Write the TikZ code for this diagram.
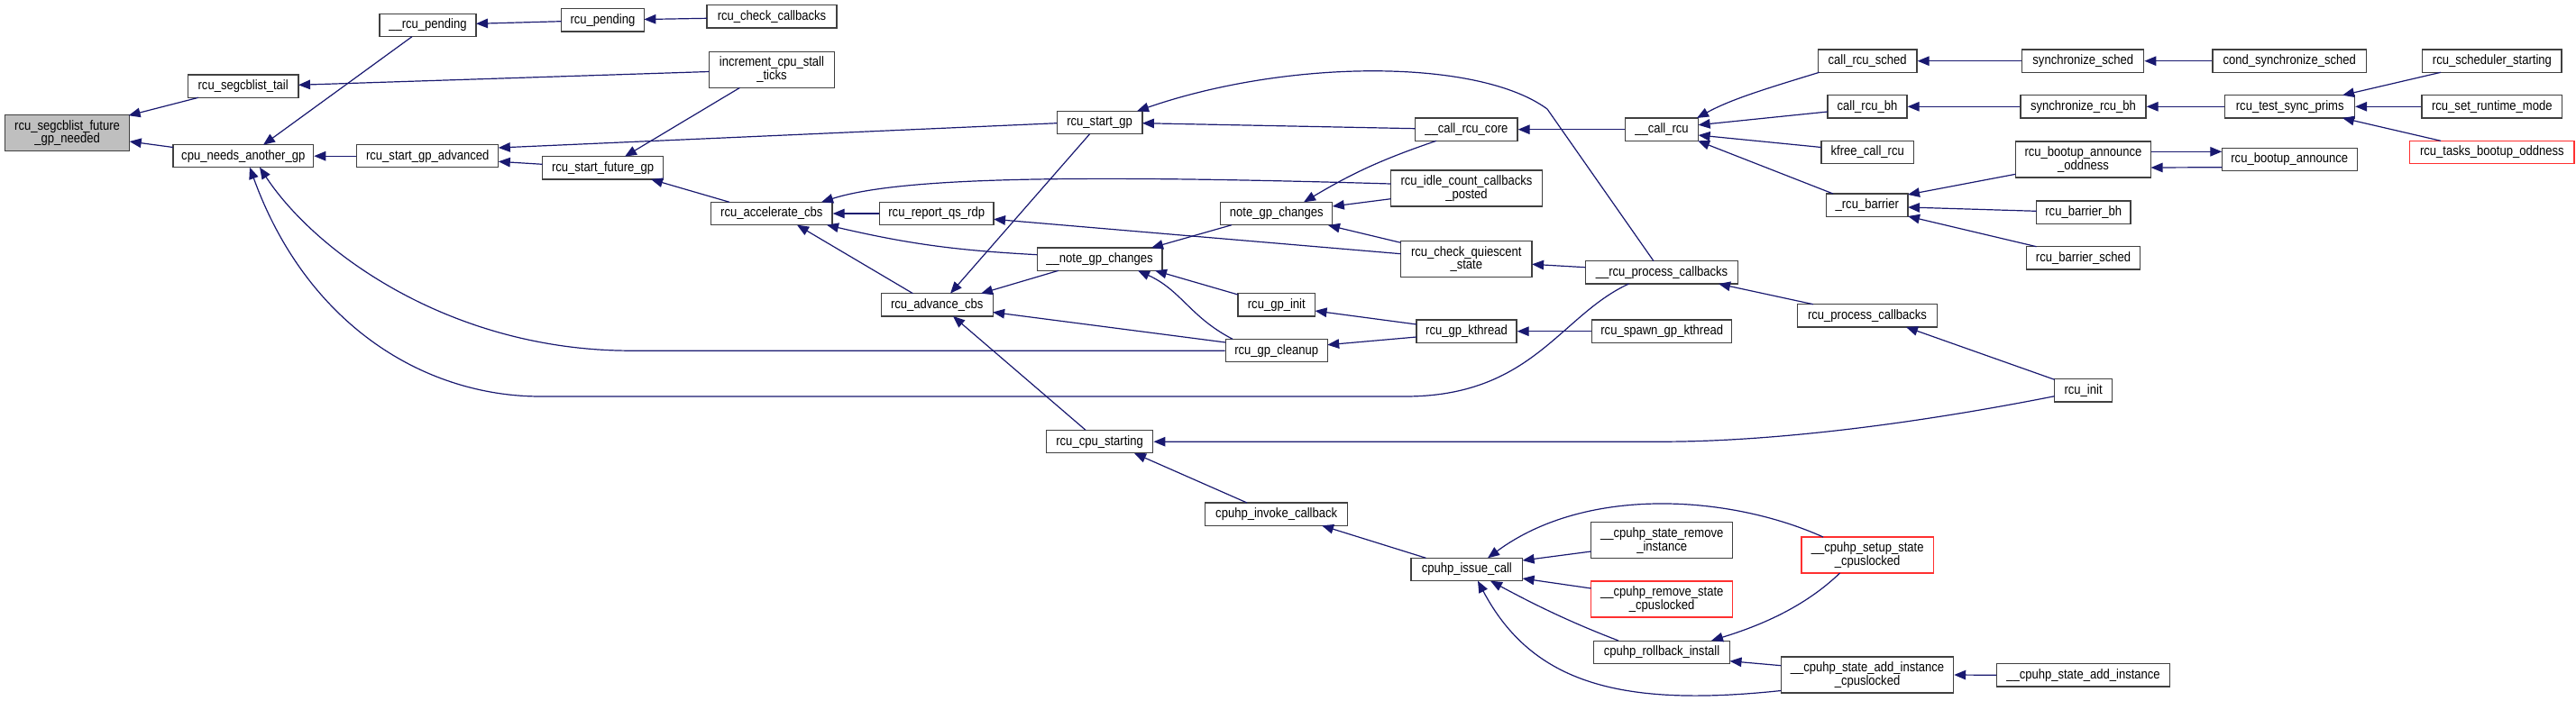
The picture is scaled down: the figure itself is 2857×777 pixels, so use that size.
\documentclass[tikz,border=0pt]{standalone}
\usepackage{fontspec}
\setmainfont{Liberation Sans}
\newfontfamily\narrowfont{Liberation Sans}[FakeStretch=0.87]
\usetikzlibrary{arrows.meta,calc}
\definecolor{edgeblue}{HTML}{191970}
\definecolor{boxgray}{HTML}{404040}
\definecolor{maingray}{HTML}{BFBFBF}
\definecolor{boxred}{HTML}{FF3030}
\newcommand\nodefont{\narrowfont\fontsize{15}{14.5}\selectfont}
\begin{document}
\begin{tikzpicture}[x=1pt,y=-1pt,
  box/.style={draw=boxgray, line width=1.2pt, fill=white, inner sep=0pt, align=center, font=\nodefont, minimum height=25.3pt},
  tall/.style={minimum height=40pt},
  redbox/.style={draw=boxred},
  edge/.style={draw=edgeblue, line width=1.2pt, -{Triangle[length=13pt,width=10.5pt]}}]
\useasboundingbox[fill=white] (0,0) rectangle (2857,777);
% nodes
\node[box,tall,fill=maingray,minimum width=138.2pt] (main) at (74.6,147.7) {rcu\_segcblist\_future\\\_gp\_needed};
\node[box,minimum width=122.6pt] (tail) at (269.7,95.7) {rcu\_segcblist\_tail};
\node[box,minimum width=155.7pt] (cpuneeds) at (269.8,173.2) {cpu\_needs\_another\_gp};
\node[box,minimum width=107pt] (rpend2) at (474.5,27.8) {\_\_rcu\_pending};
\node[box,minimum width=157pt] (adv) at (474.3,173.2) {rcu\_start\_gp\_advanced};
\node[box,minimum width=91.8pt] (rpend) at (668.5,22.3) {rcu\_pending};
\node[box,minimum width=134.2pt] (future) at (668.6,186.3) {rcu\_start\_future\_gp};
\node[box,minimum width=144.1pt] (checkcb) at (856,18.3) {rcu\_check\_callbacks};
\node[box,tall,minimum width=138.7pt] (incr) at (856,77.3) {increment\_cpu\_stall\\\_ticks};
\node[box,minimum width=94.6pt] (startgp) at (1219.6,136) {rcu\_start\_gp};
\node[box,minimum width=134.5pt] (accel) at (855.8,237) {rcu\_accelerate\_cbs};
\node[box,minimum width=126.7pt] (report) at (1038.7,237) {rcu\_report\_qs\_rdp};
\node[box,minimum width=124.1pt] (note) at (1415.8,237) {note\_gp\_changes};
\node[box,minimum width=138.6pt] (note2) at (1219.6,287.7) {\_\_note\_gp\_changes};
\node[box,minimum width=123.9pt] (advcbs) at (1039.2,338.3) {rcu\_advance\_cbs};
\node[box,minimum width=85.5pt] (gpinit) at (1415.8,338.3) {rcu\_gp\_init};
\node[box,minimum width=113pt] (cleanup) at (1415.7,389.2) {rcu\_gp\_cleanup};
\node[box,minimum width=118.4pt] (cpustart) at (1219.6,490.2) {rcu\_cpu\_starting};
\node[box,minimum width=158pt] (invoke) at (1415.7,570.7) {cpuhp\_invoke\_callback};
\node[box,minimum width=113.4pt] (callcore) at (1626.3,143.7) {\_\_call\_rcu\_core};
\node[box,tall,minimum width=168pt] (idle) at (1626.5,209) {rcu\_idle\_count\_callbacks\\\_posted};
\node[box,tall,minimum width=145.5pt] (cqs) at (1626.3,287.7) {rcu\_check\_quiescent\\\_state};
\node[box,minimum width=81.2pt] (callrcu) at (1843,143.7) {\_\_call\_rcu};
\node[box,minimum width=109.7pt] (crsched) at (2071.2,67.7) {call\_rcu\_sched};
\node[box,minimum width=88.1pt] (crbh) at (2071,118.3) {call\_rcu\_bh};
\node[box,minimum width=102.4pt] (kfree) at (2071.2,169) {kfree\_call\_rcu};
\node[box,minimum width=90.5pt] (barrier) at (2070.8,227.7) {\_rcu\_barrier};
\node[box,minimum width=169.4pt] (rpc2) at (1843,302.3) {\_\_rcu\_process\_callbacks};
\node[box,minimum width=155.1pt] (rpc) at (2071,350.3) {rcu\_process\_callbacks};
\node[box,minimum width=111pt] (kthread) at (1626.5,367.7) {rcu\_gp\_kthread};
\node[box,minimum width=155.2pt] (spawn) at (1843.2,367.7) {rcu\_spawn\_gp\_kthread};
\node[box,minimum width=123.5pt] (issue) at (1626.8,632) {cpuhp\_issue\_call};
\node[box,tall,minimum width=157pt] (reminst) at (1843.2,599.8) {\_\_cpuhp\_state\_remove\\\_instance};
\node[box,tall,redbox,minimum width=157pt] (remstate) at (1843.2,665) {\_\_cpuhp\_remove\_state\\\_cpuslocked};
\node[box,minimum width=151pt] (rollback) at (1843,723.8) {cpuhp\_rollback\_install};
\node[box,tall,redbox,minimum width=146.4pt] (setup) at (2071.2,616) {\_\_cpuhp\_setup\_state\\\_cpuslocked};
\node[box,tall,minimum width=191.2pt] (addcl) at (2071,749) {\_\_cpuhp\_state\_add\_instance\\\_cpuslocked};
\node[box,minimum width=135pt] (syncsched) at (2310.3,67.7) {synchronize\_sched};
\node[box,minimum width=170.4pt] (condsync) at (2539.2,67.7) {cond\_synchronize\_sched};
\node[box,minimum width=154.2pt] (schedstart) at (2763.9,67.7) {rcu\_scheduler\_starting};
\node[box,minimum width=139.1pt] (syncbh) at (2310.5,118.3) {synchronize\_rcu\_bh};
\node[box,minimum width=143.7pt] (testsync) at (2539.7,118.3) {rcu\_test\_sync\_prims};
\node[box,minimum width=155.6pt] (runtime) at (2763.8,118.3) {rcu\_set\_runtime\_mode};
\node[box,redbox,minimum width=182.3pt] (tasks) at (2763.8,169) {rcu\_tasks\_bootup\_oddness};
\node[box,tall,minimum width=150.1pt] (oddness) at (2310.5,177) {rcu\_bootup\_announce\\\_oddness};
\node[box,minimum width=150.1pt] (announce) at (2539.3,177) {rcu\_bootup\_announce};
\node[box,minimum width=104.5pt] (barbh) at (2310.8,235.7) {rcu\_barrier\_bh};
\node[box,minimum width=126.3pt] (barsched) at (2310.5,286.3) {rcu\_barrier\_sched};
\node[box,minimum width=63.8pt] (rcuinit) at (2310.6,433.3) {rcu\_init};
\node[box,minimum width=191.5pt] (addinst) at (2310.5,749.3) {\_\_cpuhp\_state\_add\_instance};
% edges
\draw[edge] ($(tail)+(-49.7,12.6)$) -- ($(main)+(68,-19.5)$);
\draw[edge] ($(cpuneeds)+(-77.9,-9.7)$) -- ($(main)+(69.1,9.3)$);
\draw[edge] ($(rpend2)+(-17.5,12.85)$) -- ($(cpuneeds)+(22.2,-12.5)$);
\draw[edge] ($(rpend)+(-45.9,1.4)$) -- ($(rpend2)+(53.5,-1.5)$);
\draw[edge] ($(checkcb)+(-72,2)$) -- ($(rpend)+(45.9,-0.8)$);
\draw[edge] ($(incr)+(-69.4,2.2)$) -- ($(tail)+(61.3,-1.4)$);
\draw[edge] (adv.west) -- (cpuneeds.east);
\draw[edge] ($(startgp)+(-47.3,0.7)$) -- ($(adv)+(78.5,-9.2)$);
\draw[edge] ($(future)+(-67.1,-4)$) -- ($(adv)+(78.5,6.1)$);
\draw[edge] ($(incr)+(-35.4,20)$) -- ($(future)+(24.4,-12.6)$);
\draw[edge] ($(accel)+(-46.8,-12.7)$) -- ($(future)+(53.4,12.7)$);
\draw[edge] (report.west) -- (accel.east);
\draw[edge] ($(note2)+(-69.3,-5)$) to[bend left=5] ($(accel)+(61.2,12.7)$);
\draw[edge] ($(advcbs)+(-26.7,-12.6)$) -- ($(accel)+(28.2,12.7)$);
\draw[edge] ($(idle)+(-84,-5)$) .. controls (1200,194) and (1000,196) .. ($(accel)+(55.2,-12.7)$);
\draw[edge] ($(startgp)+(-11,12.7)$) -- ($(advcbs)+(14.8,-12.6)$);
\draw[edge] ($(note2)+(-45.6,12.6)$) -- ($(advcbs)+(48.8,-12.6)$);
\draw[edge] ($(cleanup)+(-56.5,-9.2)$) -- ($(advcbs)+(61.9,8.2)$);
\draw[edge] ($(note)+(-49.8,12.7)$) -- ($(note2)+(57.4,-12.7)$);
\draw[edge] ($(gpinit)+(-42.8,-11.3)$) -- ($(note2)+(61.4,12.6)$);
\draw[edge] ($(cleanup)+(-48.7,-12.9)$) .. controls (1320,352) and (1310,322) .. ($(note2)+(42.4,12.6)$);
\draw[edge] ($(callcore)+(-33.3,12.6)$) to[bend right=6] ($(note)+(30.2,-12.7)$);
\draw[edge] ($(idle)+(-84,11.7)$) -- ($(note)+(62,-8)$);
\draw[edge] ($(cqs)+(-72.75,-18.4)$) -- ($(note)+(57.2,13)$);
\draw[edge] ($(cqs)+(-72.75,-6)$) -- ($(report)+(63.3,6.3)$);
\draw[edge] ($(callcore)+(-56.7,-1)$) -- ($(startgp)+(47.3,0.7)$);
\draw[edge] ($(rpc2)+(-9,-12.6)$) -- (1716,121) .. controls (1640,65) and (1430,65) .. ($(startgp)+(41.4,-12.7)$);
\draw[edge] (callrcu.west) -- (callcore.east);
\draw[edge] ($(crsched)+(-53.5,12.6)$) .. controls (1960,98) and (1920,110) .. ($(callrcu)+(39,-12.7)$);
\draw[edge] ($(crbh)+(-44.1,5.7)$) -- ($(callrcu)+(40.6,-5)$);
\draw[edge] ($(kfree)+(-51.2,-5.5)$) -- ($(callrcu)+(40.6,6.3)$);
\draw[edge] ($(barrier)+(-37.8,-12.7)$) -- ($(callrcu)+(40,12.6)$);
\draw[edge] ($(rpc2)+(-84.7,-5.6)$) -- ($(cqs)+(72.75,5.6)$);
\draw[edge] ($(rpc)+(-60,-12.6)$) -- ($(rpc2)+(63,12.7)$);
\draw[edge] ($(kthread)+(-55.5,-7.7)$) -- ($(gpinit)+(42.7,6.7)$);
\draw[edge] ($(kthread)+(-55.5,6.3)$) -- ($(cleanup)+(56.5,-6.5)$);
\draw[edge] (spawn.west) -- (kthread.east);
\draw[edge] ($(rpc2)+(-36.5,12.7)$) .. controls (1730,350) and (1700,440) .. (1558,440) -- (600,440) .. controls (470,440) and (340,360) .. ($(cpuneeds)+(7.2,12.5)$);
\draw[edge] (cleanup.west) -- (700,389.2) .. controls (500,389.2) and (350,280) .. ($(cpuneeds)+(18.2,12.5)$);
\draw[edge] ($(cpustart)+(-15.6,-12.9)$) -- ($(advcbs)+(17.8,12.7)$);
\draw[edge] ($(rcuinit)+(-31.9,6.4)$) .. controls (2100,475) and (1950,490.2) .. (1843,490.2) -- (cpustart.east);
\draw[edge] ($(rcuinit)+(-31.9,-12)$) -- ($(rpc)+(43,12.7)$);
\draw[edge] ($(invoke)+(-32.7,-12.7)$) -- ($(cpustart)+(38.4,12.8)$);
\draw[edge] ($(issue)+(-45.3,-12.7)$) -- ($(invoke)+(50.3,12.6)$);
\draw[edge] ($(reminst)+(-78.5,12.2)$) -- ($(issue)+(61.75,-10)$);
\draw[edge] ($(remstate)+(-78.5,-12)$) -- ($(issue)+(61.75,10)$);
\draw[edge] ($(rollback)+(-48,-12.8)$) .. controls (1740,690) and (1700,670) .. ($(issue)+(26.2,12.7)$);
\draw[edge] ($(addcl)+(-95.6,17.5)$) .. controls (1800,785) and (1700,760) .. ($(issue)+(12.2,12.7)$);
\draw[edge] ($(setup)+(-49.2,-20)$) .. controls (1920,550) and (1760,538) .. ($(issue)+(23.2,-12.7)$);
\draw[edge] ($(setup)+(-30.6,20)$) .. controls (2000,675) and (1950,695) .. ($(rollback)+(55,-12.8)$);
\draw[edge] ($(addcl)+(-95.6,-10.3)$) -- ($(rollback)+(75.5,9.9)$);
\draw[edge] (addinst.west) -- (addcl.east);
\draw[edge] (syncsched.west) -- (crsched.east);
\draw[edge] (condsync.west) -- (syncsched.east);
\draw[edge] (syncbh.west) -- (crbh.east);
\draw[edge] (testsync.west) -- (syncbh.east);
\draw[edge] ($(schedstart)+(-56.9,12.6)$) -- ($(testsync)+(58.3,-12.6)$);
\draw[edge] (runtime.west) -- (testsync.east);
\draw[edge] ($(tasks)+(-56.8,-12.7)$) -- ($(testsync)+(58.3,12.7)$);
\draw[edge] ($(oddness)+(75.05,-8.7)$) -- ($(announce)+(-75.05,-8.7)$);
\draw[edge] ($(announce)+(-75.05,8.7)$) -- ($(oddness)+(75.05,9)$);
\draw[edge] ($(oddness)+(-75.05,16.3)$) -- ($(barrier)+(45.2,-11.7)$);
\draw[edge] ($(barbh)+(-52.25,-1.4)$) -- ($(barrier)+(45.25,2.3)$);
\draw[edge] ($(barsched)+(-52,-12.6)$) -- ($(barrier)+(45.25,12.3)$);
\end{tikzpicture}
\end{document}
